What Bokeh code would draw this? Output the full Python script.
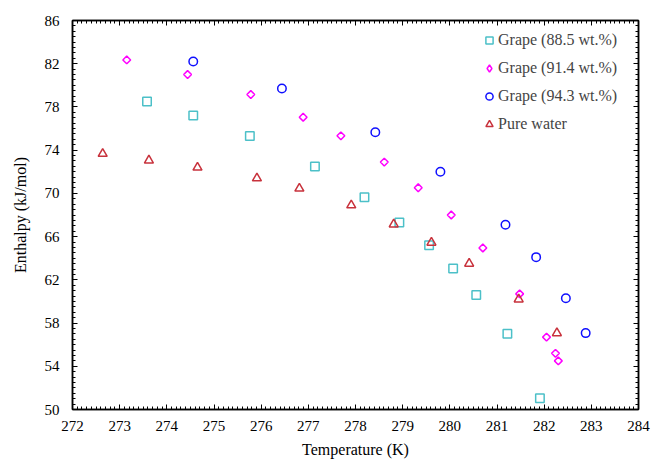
import numpy as np
from bokeh.plotting import figure
from bokeh.models import (LinearAxis, Legend, LegendItem, Range1d, FixedTicker,
                          CustomJSTickFormatter)
from bokeh.embed import file_html
from bokeh.resources import INLINE

# Grape (88.5 wt.%)
t_885 = [273.58, 274.56, 275.76, 277.14, 278.19, 278.93, 279.56, 280.07, 280.56, 281.22, 281.91]
h_885 = [78.5, 77.2, 75.3, 72.5, 69.65, 67.3, 65.2, 63.05, 60.6, 57.0, 51.05]
# Grape (91.4 wt.%)
t_914 = [273.15, 274.44, 275.78, 276.89, 277.69, 278.61, 279.33, 280.03, 280.70, 281.48, 282.05, 282.24, 282.30]
h_914 = [82.35, 81.0, 79.15, 77.05, 75.33, 72.9, 70.52, 68.0, 64.95, 60.7, 56.7, 55.2, 54.5]
# Grape (94.3 wt.%)
t_943 = [274.56, 276.44, 278.42, 279.80, 281.18, 281.83, 282.46, 282.88]
h_943 = [82.2, 79.7, 75.65, 72.0, 67.1, 64.1, 60.3, 57.07]
# Pure water
t_w = [272.64, 273.62, 274.65, 275.91, 276.81, 277.91, 278.81, 279.61, 280.41, 281.46, 282.27]
h_w = [73.67, 73.05, 72.4, 71.4, 70.45, 68.9, 67.13, 65.45, 63.5, 60.2, 57.07]

labels = ["Grape (88.5 wt.%)", "Grape (91.4 wt.%)", "Grape (94.3 wt.%)", "Pure water"]

x_ticks = list(range(272, 285))
y_ticks = list(range(50, 87, 4))

FONT = "Liberation Serif"

p = figure(width=651, height=461, output_backend="svg", toolbar_location=None,
           x_range=Range1d(272, 284), y_range=Range1d(50, 86),
           x_axis_label="Temperature (K)", y_axis_label="Enthalpy (kJ/mol)")
p.min_border_left = 72
p.min_border_right = 13
p.min_border_top = 20
p.min_border_bottom = 52
p.outline_line_color = "black"
p.outline_line_width = 1.5
p.grid.visible = False
p.background_fill_color = "white"
p.border_fill_color = "white"

xminor = [272 + i * 0.1 for i in range(121)]
yminor = [50 + i * 0.5 for i in range(73)]


def style_axis(ax, ticks, minor, show_labels=True):
    ax.ticker = FixedTicker(ticks=ticks, minor_ticks=minor)
    ax.major_tick_in = 5
    ax.major_tick_out = 0
    ax.minor_tick_in = 3
    ax.minor_tick_out = 0
    ax.axis_line_width = 1.5
    ax.major_tick_line_width = 1
    ax.minor_tick_line_width = 1
    ax.major_label_text_font = FONT
    ax.major_label_text_font_size = "15px"
    ax.major_label_text_color = "black"
    ax.axis_label_text_font = FONT
    ax.axis_label_text_font_size = "16px"
    ax.axis_label_text_font_style = "normal"
    ax.axis_label_text_color = "black"
    if not show_labels:
        ax.formatter = CustomJSTickFormatter(code="return ''")
        ax.major_label_standoff = 0


for ax in p.xaxis:
    style_axis(ax, x_ticks, xminor)
    ax.major_label_standoff = 11
    ax.axis_label_standoff = 7
for ax in p.yaxis:
    style_axis(ax, y_ticks, yminor)
    ax.major_label_standoff = 13
    ax.axis_label_standoff = 13

top = LinearAxis()
style_axis(top, x_ticks, xminor, show_labels=False)
right = LinearAxis()
style_axis(right, y_ticks, yminor, show_labels=False)
p.add_layout(top, "above")
p.add_layout(right, "right")

lw = 1.5
c1, c2, c3, c4 = "#4CC0C8", "#FF00FF", "#1010FF", "#C8323C"
r1 = p.scatter(t_885, h_885, marker="square", size=8.5, fill_color=None,
               line_color=c1, line_width=lw)
r2 = p.scatter(t_914, h_914, marker="square", angle=np.pi / 4, size=5.5, fill_color=None,
               line_color=c2, line_width=lw)
# legend-only glyph (kept outside the visible range) so the key shows a diamond
r2_leg = p.scatter([0], [0], marker="diamond", size=8, fill_color=None,
                   line_color=c2, line_width=lw)
r3 = p.scatter(t_943, h_943, marker="circle", size=8.5, fill_color=None,
               line_color=c3, line_width=lw)
r4 = p.scatter(t_w, h_w, marker="triangle", size=9, fill_color=None,
               line_color=c4, line_width=lw)

legend = Legend(items=[
    LegendItem(label=labels[0], renderers=[r1]),
    LegendItem(label=labels[1], renderers=[r2_leg]),
    LegendItem(label=labels[2], renderers=[r3]),
    LegendItem(label=labels[3], renderers=[r4]),
], location=(408, 275))
legend.border_line_color = None
legend.background_fill_alpha = 0
legend.label_text_font = FONT
legend.label_text_font_size = "16px"
legend.label_height = 20
legend.glyph_height = 20
legend.glyph_width = 18
legend.label_standoff = 0
legend.spacing = 8
legend.padding = 5
legend.margin = 0
p.add_layout(legend, "center")

open("out.html", "w").write(file_html(p, INLINE))
